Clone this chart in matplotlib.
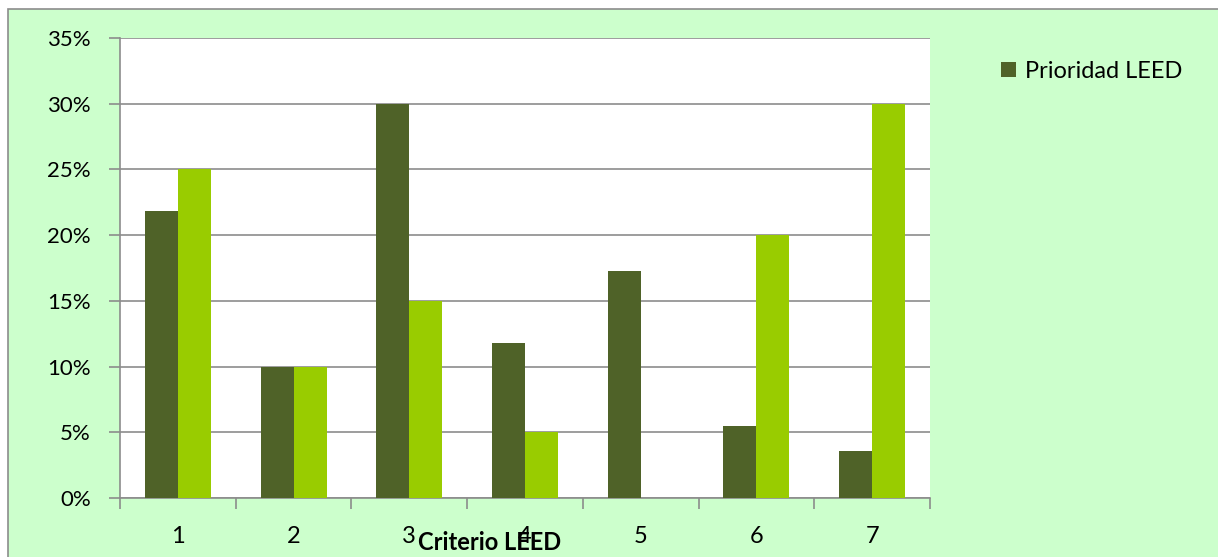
import matplotlib.pyplot as plt
import matplotlib.patches as mpatches
import numpy as np

plt.rcParams['font.family'] = ['Lato', 'DejaVu Sans']

criterios = ['1', '2', '3', '4', '5', '6', '7']
prioridad_leed = [21.8, 10.0, 30.0, 11.8, 17.3, 5.5, 3.6]
segunda_serie = [25.0, 10.0, 15.0, 5.0, 0.0, 20.0, 30.0]
yticks = [0, 5, 10, 15, 20, 25, 30, 35]

W, H = 1218, 557
fig = plt.figure(figsize=(W / 100, H / 100), dpi=100, facecolor='white')

# fondo verde con borde gris
fondo = mpatches.Rectangle((8 / W, -0.1), 1.1, 1 - 9 / H + 0.1,
                           transform=fig.transFigure, facecolor='#CCFFCC',
                           edgecolor='#8C8C8C', linewidth=1.2, zorder=-5)
fig.patches.append(fondo)

ax = fig.add_axes([120 / W, 1 - 498 / H, (930 - 120) / W, (498 - 38) / H])
ax.set_facecolor('white')
ax.set_zorder(1)

x = np.arange(len(criterios))
w = 1 / 3.5
ax.bar(x - w / 2, prioridad_leed, width=w, color='#4F6228', label='Prioridad LEED', zorder=3)
ax.bar(x + w / 2, segunda_serie, width=w, color='#99CC00', zorder=3)

ax.set_xlim(-0.5, len(criterios) - 0.5)
ax.set_ylim(0, 35)
ax.set_yticks(yticks)
ax.set_yticklabels([f'{v}%' for v in yticks], fontsize=16)
ax.yaxis.grid(True, color='#8C8C8C', linewidth=1.2, zorder=1)
ax.set_axisbelow(True)
ax.set_xticks(x)
ax.set_xticklabels(criterios, fontsize=17)
ax.set_xticks(np.arange(len(criterios) + 1) - 0.5, minor=True)
ax.tick_params(axis='x', which='major', length=0, pad=20)
ax.tick_params(axis='x', which='minor', length=8, color='#8C8C8C', width=1.2)
ax.tick_params(axis='y', length=8, color='#8C8C8C', width=1.2, pad=13)

for s in ['top', 'right']:
    ax.spines[s].set_visible(False)
for s in ['left', 'bottom']:
    ax.spines[s].set_color('#8C8C8C')
    ax.spines[s].set_linewidth(1.2)

fig.text(490 / W, 1 - 543 / H, 'Criterio LEED', fontsize=17, fontweight='bold',
         ha='center', va='center', zorder=5)

fig.legend(loc='center left', bbox_to_anchor=(980 / W, 1 - 71 / H), frameon=False,
           fontsize=17, handlelength=0.62, handleheight=0.62, handletextpad=0.4)

fig.savefig('out.png', dpi=100, facecolor=fig.get_facecolor())
